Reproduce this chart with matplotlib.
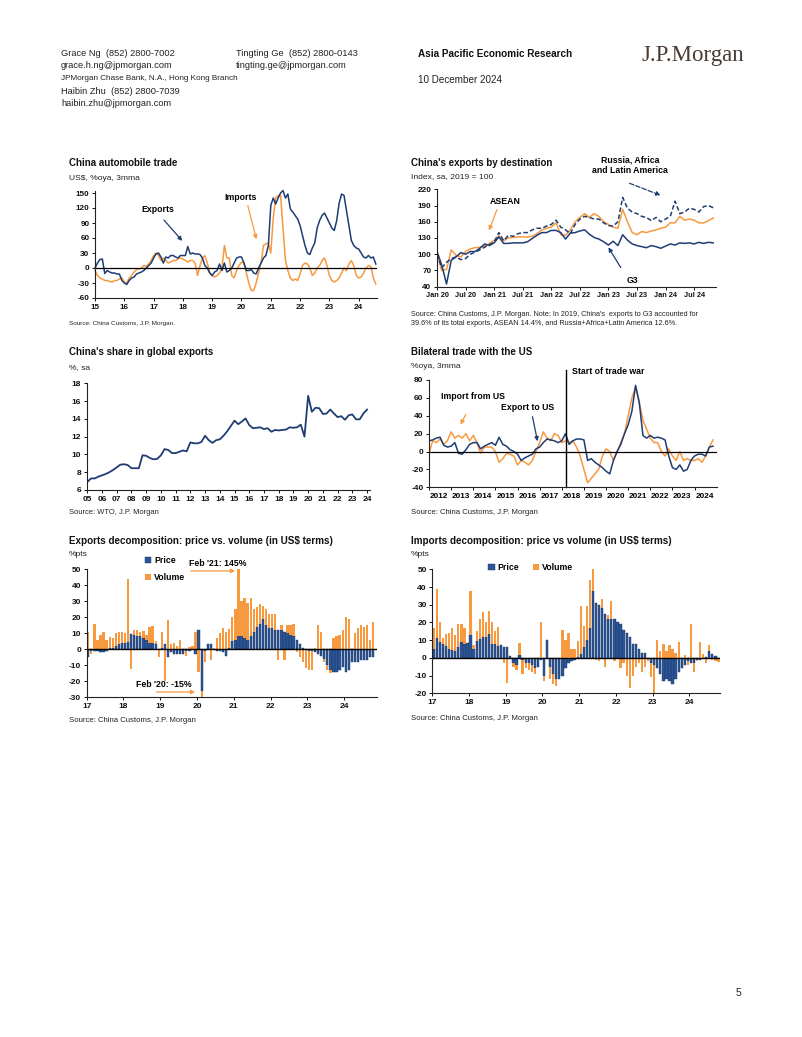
import numpy as np
import matplotlib
matplotlib.use("Agg")
import matplotlib.pyplot as plt

plt.rcParams['font.family'] = ['Liberation Sans', 'DejaVu Sans']
plt.rcParams['axes.unicode_minus'] = False

W, H = 802, 1037
NAVY = '#1f3d73'
ORANGE = '#f7993f'
BAR_NAVY = '#2b5595'

# ---------------- data ----------------
# China automobile trade, monthly from Jan 2015, %oya 3mma
auto_exports = [0, 10, 17, 18, -11, -5, -8, -10, -10, -12, -12, -25, -30, -33, -25, -20, -18, -12, -10, -8, -5, 0, 5, 10,
                20, 28, 30, 22, 10, 22, 20, 25, 25, 22, 20, 25, 25, 25, 43, 28, 30, 28, 28, 27, 20, 5, 0, -10,
                -15, -8, -5, 8, -5, 10, -8, -5, 0, 10, 20, 22, 22, 10, -5, -5, -3, -10, -12, 0, 10, 20, 25, 45,
                125, 140, 128, 140, 150, 155, 140, 148, 118, 112, 105, 98, 85, 65, 45, 30, 27, 40, 50, 80, 95, 105, 110, 100,
                90, 80, 75, 95, 130, 148, 145, 115, 85, 55, 45, 40, 38, 30, 22, 20, 25, 20, 22, 8]
auto_imports = [-5, -15, -20, -22, -25, -25, -27, -28, -25, -25, -22, -20, -28, -30, -20, -15, -8, -3, -2, 0, 5, 3, 8, 15,
                25, 30, 25, 15, 20, 15, 10, 12, 15, 15, 18, 20, 18, 15, 12, 15, 15, 10, -15, 5, 20, 25, 10, -10,
                -15, -18, -15, -10, 0, 45, 20, 20, -15, -20, -5, 5, 12, 10, -10, -30, -45, -45, -30, -10, 10, 45, 48, 50,
                30, 100, 140, 145, 145, 80, 15, -5, -20, -25, -22, -25, -12, 5, 10, 8, 0, -15, -10, 0, 5, 15, 20, 5,
                -15, -25, -28, -25, -20, -10, 0, -5, 8, 15, 5, -15, -20, -18, -10, 0, 5, 3, -20, -32]
auto_year_labels = ['15', '16', '17', '18', '19', '20', '21', '22', '23', '24']

# China's exports by destination, monthly from Jan 2020, index 2019=100
dest_g3 = [105, 80, 45, 89, 95, 103, 100, 105, 105, 111, 119, 116, 121, 132, 120, 120, 121, 121, 121, 123, 129, 135, 140, 140,
           144, 144, 140, 128, 139, 140, 143, 145, 137, 131, 128, 123, 117, 124, 116, 136, 126, 119, 116, 114, 112, 116, 114, 111,
           115, 119, 117, 121, 120, 121, 119, 122, 120, 122, 121]
dest_asean = [100, 70, 72, 108, 98, 95, 105, 110, 112, 113, 115, 120, 126, 134, 125, 130, 131, 132, 132, 132, 133, 138, 145, 148,
              150, 158, 136, 135, 145, 160, 168, 175, 168, 175, 170, 160, 155, 150, 148, 183, 160, 140, 136, 142, 140, 143, 145, 148,
              150, 158, 158, 170, 163, 165, 163, 158, 158, 162, 167]
dest_rala = [100, 75, 85, 92, 95, 90, 92, 100, 104, 108, 113, 118, 122, 140, 125, 135, 133, 138, 140, 140, 145, 148, 148, 152,
             155, 163, 150, 145, 138, 155, 165, 170, 168, 165, 165, 158, 153, 152, 160, 205, 185, 178, 175, 170, 168, 162, 168, 160,
             165, 170, 198, 175, 178, 185, 183, 178, 188, 190, 186]
dest_tick_labels = ['Jan 20', 'Jul 20', 'Jan 21', 'Jul 21', 'Jan 22', 'Jul 22', 'Jan 23', 'Jul 23', 'Jan 24', 'Jul 24']

# China's share in global exports, quarterly from 2005Q1, %
share = [6.9, 7.3, 7.3, 7.5, 7.65, 7.8, 8.0, 8.25, 8.55, 8.85, 8.9, 8.8, 8.45, 8.45, 8.45, 9.9, 9.85, 9.6, 9.45, 9.5,
         9.9, 10.6, 10.5, 10.15, 10.15, 10.3, 10.45, 10.35, 11.35, 11.25, 11.25, 11.4, 12.1, 11.6, 11.3, 11.6, 11.7, 12.1,
         12.6, 13.2, 13.8, 13.4, 13.7, 14.05, 13.3, 12.95, 13.0, 13.05, 12.85, 12.95, 12.55, 12.75, 12.7, 12.75, 12.8,
         13.05, 13.0, 13.05, 13.35, 12.0, 16.6, 14.8, 15.25, 15.2, 14.55, 14.6, 15.05, 14.6, 14.2, 14.3, 13.9, 14.4,
         14.5, 13.95, 13.95, 14.6, 15.05]
share_year_labels = ['05', '06', '07', '08', '09', '10', '11', '12', '13', '14', '15', '16', '17', '18', '19', '20', '21', '22', '23', '24']

# Bilateral trade with the US, every second month from Jan 2012, %oya 3mma
us_exports = [12, 13, 15, 16, 7, 5, 6, 10, -2, -3, 2, 8, 10, 10, 3, 6, 8, 10, 7, 16, 8, 6, 2, 0, -3, -10, -7, -5, -3, 3,
              5, 10, 14, 13, 12, 10, 12, 20, 8, 12, 14, 14, 13, -10, -8, -12, -15, -18, -22, -25, -10, 0, 8, 20, 30, 45,
              74, 55, 18, 15, 18, 15, 16, 15, 13, -5, -18, -20, -15, -22, -20, -10, -5, -3, -3, -5, 5, 6]
us_imports = [-2, 12, 10, 14, 8, 12, 22, 15, 18, 15, 20, 12, 18, 10, -2, 5, 5, 5, 0, -12, -8, -2, -3, -5, -15, -10, -12, -15,
              -10, 0, 10, 22, 15, 12, 20, 18, 10, 12, 10, 12, 5, -5, -20, -35, -30, -25, -20, -5, 3, 0, -10, 0, 10, 20, 40,
              60, 72, 55, 35, 25, 15, 10, 10, 0, -5, 3, -5, -10, 0, -10, -8, -10, -10, -8, -12, -5, 5, 13]
us_years = list(range(2012, 2025))
trade_war_start = 2018.17

# Exports decomposition, monthly from Jan 2017, %pts
exp_price = [-5, -1, -1, -1, -2, -1.5, -1, 0.5, 1, 2, 3, 4, 4, 4.5, 9.5, 9, 8.5, 8, 7, 6, 4, 4, 3, 0,
             0.5, 3, -5, -2, -3, -3, -3, -3, -1, -1, 0, -3, 12, -26, -1, 3, 3.5, 0, -1, -1, -2, -4, 0.5, 5,
             6, 8, 8, 7, 6, 8, 11, 14, 16, 19, 15, 13, 13, 12, 12, 12, 11, 10, 9, 8, 6, 3, 1, 0,
             -1, -1, -2, -3, -4, -6, -10, -13, -14, -14, -13, -11, -14, -13, -8, -8, -8, -7, -7, -7, -5, -5]
exp_volume = [11, -2, 16, 6, 9, 11, 6, 7, 6, 8, 8, 7, 6, 39, -12.5, 3, 3.5, 3, 4.5, 3, 10, 10.5, 2, -5,
              10, -20, 18.5, 3.5, 4, 2, 6, 0, -3, 1.5, 2, 10.5, -14, -8, -7, 0, -7, 0.5, 7, 10, 13, 11, 12, 15,
              19, 42, 22, 25, 23, 24, 14, 12, 12, 8, 10, 9, 9, 10, -7, 3, -7, 5, 6, 8, -2, -5, -8, -12,
              -12, -12, 1, 15, 11, -2, -3, -2, 7, 8, 9, 12, 20, 19, 0, 10, 13, 15, 14, 15, 6, 17]

# Imports decomposition, monthly from Jan 2017, %pts
imp_price = [5, 11, 9, 8, 6.5, 5, 4.5, 4, 6, 9, 8, 8.5, 13, 5, 9.5, 10.5, 12, 12, 13.5, 8, 8, 6.5, 7, 6,
             6, 1, -3, -4, 1.5, -1, -3, -3, -4, -6, -5, -1, -10, 10, -5, -9, -12, -12, -10, -6, -3, -2, -1, 0.5,
             2, 6, 10, 17, 38, 31, 30, 28, 25, 22, 22, 22, 20, 19, 16, 14, 12, 8, 8, 5, 3, 2.5, 0, -3,
             -4, -6, -9, -13, -12, -13, -15, -12, -8, -6, -4, -2, -3, -3, -1, -1, 0, 0.5, 4, 2, 1, -0.5]
imp_volume = [12, 28, 11, 3, 7, 9, 12.5, 9, 13, 10, 9, 0, 25, 2, 5.5, 11.5, 14, 8, 13, 12, 7, 11, 0, -3,
              -14, 0, -2, -3, 7, -8, -3, -4, -4, -3, 0, 20, -3, 0, -7, -6, -4, 0, 16, 10, 14, 5, 5, 9,
              27, 12, 19, 27, 12, -1, -2, 5, -5, 2, 10, -2, 0, -6, -3, -10, -17, -10, -5, -3, -8, -5, -2, -8,
              -16, 10, 4, 8, 4, 7, 5, 3, 9, 0, 1.5, -2, 19, -5, -1, 9, 2, -3, 3, -1, -1.5, -2]
decomp_year_labels = ['17', '18', '19', '20', '21', '22', '23', '24']

# ---------------- helpers ----------------
fig = plt.figure(figsize=(W / 100, H / 100), dpi=100)
TXT = '#222222'
ANN = 6.3   # annotation font size


def px_axes(l, t, r, b):
    return fig.add_axes([l / W, 1 - b / H, (r - l) / W, (b - t) / H])


def ftext(x, y, s, **kw):
    kw.setdefault('va', 'center')
    kw.setdefault('color', TXT)
    return fig.text(x / W, 1 - y / H, s, **kw)


def style(ax, size=5.9):
    for s in ('top', 'right'):
        ax.spines[s].set_visible(False)
    for s in ('left', 'bottom'):
        ax.spines[s].set_linewidth(0.8)
        ax.spines[s].set_color('#222222')
    ax.tick_params(axis='both', labelsize=size, length=2.5, width=0.7, pad=1.5, colors='#111111')
    for lab in ax.get_xticklabels() + ax.get_yticklabels():
        lab.set_fontweight('bold')


def titles(x, y1, y2, title, sub, size=7.0):
    ftext(x, y1, title, fontsize=size, fontweight='bold', color='#111111')
    ftext(x, y2, sub, fontsize=6.1)


def stack(price, volume):
    p = np.array(price, float)
    v = np.array(volume, float)
    vbase = np.where(v >= 0, np.maximum(p, 0), np.minimum(p, 0))
    return p, v, vbase


def arrow(ax, start, end, color, ls='-'):
    ax.annotate('', xy=end, xytext=start, annotation_clip=False,
                arrowprops=dict(arrowstyle='-|>', color=color, lw=0.9, ls=ls, mutation_scale=6))

# ---------------- header ----------------
ftext(61, 53, 'Grace Ng  (852) 2800-7002', fontsize=6.7)
ftext(61, 66, 'grace.h.ng@jpmorgan.com', fontsize=6.7)
ftext(61, 78, 'JPMorgan Chase Bank, N.A., Hong Kong Branch', fontsize=5.9)
ftext(61, 91, 'Haibin Zhu  (852) 2800-7039', fontsize=6.7)
ftext(61, 103, 'haibin.zhu@jpmorgan.com', fontsize=6.7)
ftext(236, 53, 'Tingting Ge  (852) 2800-0143', fontsize=6.7)
ftext(236, 66, 'tingting.ge@jpmorgan.com', fontsize=6.7)
ftext(418, 54, 'Asia Pacific Economic Research', fontsize=7.2, fontweight='bold', color='#111111')
ftext(418, 80, '10 December 2024', fontsize=7.1)
ftext(642, 56, 'J.P.Morgan', fontsize=16.5, family='Liberation Serif', color='#4a3b30')
ftext(736, 993, '5', fontsize=7.5)

# ---------------- chart 1: automobile trade ----------------
titles(69, 163, 179, 'China automobile trade', 'US$, %oya, 3mma')
ax1 = px_axes(95, 190.5, 377, 298)
m1 = np.arange(len(auto_exports))
ax1.plot(m1, auto_imports, color=ORANGE, lw=1.1, clip_on=False)
ax1.plot(m1, auto_exports, color=NAVY, lw=1.1, clip_on=False)
ax1.axhline(0, color='black', lw=0.9)
ax1.set_xlim(0, 115.5)
ax1.set_ylim(-60, 155)
ax1.set_yticks(np.arange(-60, 151, 30))
ax1.set_xticks(np.arange(len(auto_year_labels)) * 12)
ax1.set_xticklabels(auto_year_labels)
style(ax1)
ax1.text(25.8, 118, 'Exports', fontsize=ANN, fontweight='bold', ha='center', va='center')
arrow(ax1, (27.5, 100), (36.5, 50), NAVY)
ax1.text(59.8, 142, 'Imports', fontsize=ANN, fontweight='bold', ha='center', va='center')
arrow(ax1, (62.3, 130), (66.4, 52), ORANGE)
ftext(69, 323, 'Source: China Customs, J.P. Morgan.', fontsize=4.6)

# ---------------- chart 2: exports by destination ----------------
titles(411, 163, 177, "China's exports by destination", 'Index, sa, 2019 = 100')
ax2 = px_axes(437, 189.3, 716, 286.7)
m2 = np.arange(len(dest_g3))
ax2.plot(m2, dest_asean, color=ORANGE, lw=1.1)
ax2.plot(m2, dest_rala, color=NAVY, lw=1.1, ls=(0, (3, 1.6)))
ax2.plot(m2, dest_g3, color=NAVY, lw=1.1)
ax2.set_xlim(0, 58.6)
ax2.set_ylim(40, 220)
ax2.set_yticks(np.arange(40, 221, 30))
ax2.set_xticks(np.arange(len(dest_tick_labels)) * 6)
ax2.set_xticklabels(dest_tick_labels)
style(ax2)
ax2.tick_params(axis='x', labelsize=5.3)
ax2.text(40.5, 265, 'Russia, Africa\nand Latin America', fontsize=ANN, fontweight='bold',
         ha='center', va='center', linespacing=1.2)
arrow(ax2, (39.9, 233), (47.5, 207), NAVY, ls='--')
ax2.text(14.3, 198, 'ASEAN', fontsize=ANN, fontweight='bold', ha='center', va='center')
arrow(ax2, (12.8, 187), (10.7, 139), ORANGE)
ax2.text(41, 52, 'G3', fontsize=ANN, fontweight='bold', ha='center', va='center')
arrow(ax2, (38.9, 71), (35.7, 117), NAVY)
ftext(411, 314, "Source: China Customs, J.P. Morgan. Note: In 2019, China's  exports to G3 accounted for", fontsize=5.2)
ftext(411, 324, '39.6% of its total exports, ASEAN 14.4%, and Russia+Africa+Latin America 12.6%.', fontsize=5.2)

# ---------------- chart 3: share in global exports ----------------
titles(69, 352, 368, "China's share in global exports", '%, sa')
ax3 = px_axes(86.7, 383.3, 370, 490)
yrs3 = 2005 + np.arange(len(share)) / 4
ax3.plot(yrs3, share, color=NAVY, lw=1.3)
ax3.set_xlim(2004.96, 2024.2)
ax3.set_ylim(6, 18)
ax3.set_yticks(np.arange(6, 19, 2))
ax3.set_xticks(2005 + np.arange(len(share_year_labels)))
ax3.set_xticklabels(share_year_labels)
style(ax3, 6.0)
ftext(69, 512, 'Source: WTO, J.P. Morgan', fontsize=5.4)

# ---------------- chart 4: bilateral trade with the US ----------------
titles(411, 352, 366, 'Bilateral trade with the US', '%oya, 3mma')
ax4 = px_axes(429, 380, 716.7, 487.3)
yrs4 = 2012 + np.arange(len(us_exports)) * 2 / 12
ax4.plot(yrs4, us_imports, color=ORANGE, lw=1.1)
ax4.plot(yrs4, us_exports, color=NAVY, lw=1.1)
ax4.axhline(0, color='black', lw=0.9)
ax4.plot([trade_war_start, trade_war_start], [-40, 91], color='black', lw=1.0, clip_on=False)
ax4.set_xlim(2012, 2025)
ax4.set_ylim(-40, 80)
ax4.set_yticks(np.arange(-40, 81, 20))
ax4.set_xticks(us_years)
ax4.set_xticklabels([])
ax4.set_xticks(np.array(us_years) + 0.45, minor=True)
ax4.set_xticklabels([str(y) for y in us_years], minor=True)
style(ax4, 6.0)
ax4.tick_params(axis='x', which='minor', length=0, labelsize=5.9, pad=4)
for lab in ax4.get_xticklabels(minor=True):
    lab.set_fontweight('bold')
ax4.text(2018.46, 90, 'Start of trade war', fontsize=ANN, fontweight='bold', ha='left', va='center')
ax4.text(2012.54, 61, 'Import from US', fontsize=ANN, fontweight='bold', ha='left', va='center')
arrow(ax4, (2013.72, 44), (2013.36, 27.4), ORANGE)
ax4.text(2016.47, 49.8, 'Export to US', fontsize=ANN, fontweight='bold', ha='center', va='center')
arrow(ax4, (2016.65, 42), (2016.93, 8.4), NAVY)
ftext(411, 512, 'Source: China Customs, J.P. Morgan', fontsize=5.6)

# ---------------- chart 5: exports decomposition ----------------
titles(69, 541, 555, 'Exports decomposition: price vs. volume (in US$ terms)', '%pts', size=7.1)
ax5 = px_axes(86.7, 569, 376.7, 697.3)
p, v, vb = stack(exp_price, exp_volume)
x5 = np.arange(len(p)) + 0.5
ax5.bar(x5, p, width=0.75, color=BAR_NAVY, edgecolor='#1b3563', lw=0.3, label='Price')
ax5.bar(x5, v, bottom=vb, width=0.75, color=ORANGE, lw=0, label='Volume')
ax5.axhline(0, color='black', lw=1.0)
ax5.set_xlim(0, 94.6)
ax5.set_ylim(-30, 50)
ax5.set_yticks(np.arange(-30, 51, 10))
ax5.set_xticks(np.arange(len(decomp_year_labels)) * 12)
ax5.set_xticklabels(decomp_year_labels)
style(ax5, 6.0)
leg5 = ax5.legend(loc='upper left', bbox_to_anchor=(0.2, 1.1), frameon=False, fontsize=ANN,
                  handlelength=0.7, handleheight=0.7, handletextpad=0.35, labelspacing=0.9,
                  borderaxespad=0, borderpad=0)
for t in leg5.get_texts():
    t.set_fontweight('bold')
ax5.text(42.8, 53.7, "Feb '21: 145%", fontsize=ANN, fontweight='bold', ha='center', va='center')
arrow(ax5, (33, 48.8), (49.3, 48.8), ORANGE)
ax5.text(25.2, -22.3, "Feb '20: -15%", fontsize=ANN, fontweight='bold', ha='center', va='center')
arrow(ax5, (21.9, -26.7), (36.3, -26.7), ORANGE)
ftext(69, 720, 'Source: China Customs, J.P. Morgan', fontsize=5.6)

# ---------------- chart 6: imports decomposition ----------------
titles(411, 541, 554, 'Imports decomposition: price vs volume (in US$ terms)', '%pts', size=7.1)
ax6 = px_axes(432.3, 569.3, 720, 693.3)
p, v, vb = stack(imp_price, imp_volume)
x6 = np.arange(len(p)) + 0.5
ax6.bar(x6, p, width=0.75, color=BAR_NAVY, edgecolor='#1b3563', lw=0.3, label='Price')
ax6.bar(x6, v, bottom=vb, width=0.75, color=ORANGE, lw=0, label='Volume')
ax6.axhline(0, color='black', lw=1.0)
ax6.set_xlim(0, 94)
ax6.set_ylim(-20, 50)
ax6.set_yticks(np.arange(-20, 51, 10))
ax6.set_xticks(np.arange(len(decomp_year_labels)) * 12)
ax6.set_xticklabels(decomp_year_labels)
style(ax6, 6.0)
leg6 = ax6.legend(loc='center left', bbox_to_anchor=(0.195, 1.015), frameon=False, fontsize=ANN, ncol=2,
                  handlelength=0.7, handleheight=0.7, handletextpad=0.35, columnspacing=1.6,
                  borderaxespad=0, borderpad=0)
for t in leg6.get_texts():
    t.set_fontweight('bold')
ftext(411, 718, 'Source: China Customs, J.P. Morgan', fontsize=5.6)

fig.savefig('out.png', dpi=100)
